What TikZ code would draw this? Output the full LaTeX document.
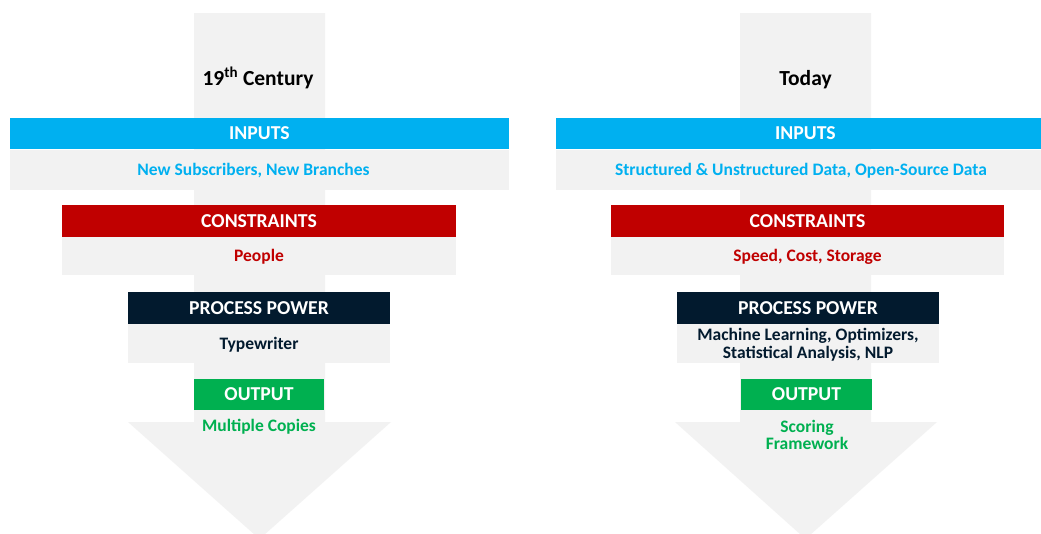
\documentclass[tikz,border=0pt]{standalone}
\usepackage{fontspec}
\setmainfont{Carlito}
\definecolor{inCyan}{HTML}{00B0F0}
\definecolor{conRed}{HTML}{C00000}
\definecolor{procNavy}{HTML}{021A2E}
\definecolor{outGreen}{HTML}{00B050}
\definecolor{paneGrey}{HTML}{F2F2F2}
\begin{document}
\begin{tikzpicture}[x=1pt,y=-1pt,
  hdr/.style={rectangle, inner sep=0pt, text=white, text height=12.6pt, text depth=0pt,
    font=\bfseries\fontsize{19.7}{22}\selectfont},
  body/.style={rectangle, inner sep=0pt, fill=paneGrey, text height=11.3pt, text depth=0pt,
    font=\bfseries\fontsize{17.5}{20}\selectfont},
  label/.style={inner sep=0pt, text height=11.3pt, text depth=0pt,
    font=\bfseries\fontsize{17.5}{20}\selectfont},
  plain/.style={inner sep=0pt, align=center, font=\bfseries\fontsize{17.5}{17.5}\selectfont},
  title/.style={inner sep=0pt, text height=14pt, text depth=0pt,
    font=\bfseries\fontsize{21.5}{24}\selectfont},
  flow/.style={fill=paneGrey},
]
\useasboundingbox (0,0) rectangle (1041,533);
\fill[white] (0,0) rectangle (1041,533);

% ---- left column: 19th century ----
\fill[flow] (194,13) -- (325,13) -- (325,422) -- (391,422) -- (259.5,539)
  -- (128,422) -- (194,422) -- cycle;
\node[title] (lt) at (258,78) {19\textsuperscript{th} Century};

\node[hdr, fill=inCyan, minimum width=499pt, minimum height=31pt] (lin) at (259.5,133.5) {INPUTS};
\node[body, minimum width=499pt, minimum height=40pt] (linb) at (259.5,169.5) {};
\node[label, text=inCyan] (lint) at (253.5,169.5) {New Subscribers, New Branches};

\node[hdr, fill=conRed, minimum width=394pt, minimum height=32pt] (lcon) at (259,221) {CONSTRAINTS};
\node[body, text=conRed, minimum width=394pt, minimum height=38pt] (lconb) at (259,255.5) {People};

\node[hdr, fill=procNavy, minimum width=262pt, minimum height=32pt] (lpp) at (259,308) {PROCESS POWER};
\node[body, text=procNavy, minimum width=262pt, minimum height=39pt] (lppb) at (259,343.5) {Typewriter};

\node[hdr, fill=outGreen, minimum width=130pt, minimum height=31pt] (lout) at (259,394.5) {OUTPUT};
\node[plain, text=outGreen] (loutb) at (259,426.5) {Multiple Copies};

% ---- right column: today ----
\fill[flow] (740,13) -- (871,13) -- (871,422) -- (937,422) -- (805.5,539)
  -- (675,422) -- (740,422) -- cycle;
\node[title] (rt) at (805.5,78) {Today};

\node[hdr, fill=inCyan, minimum width=499pt, minimum height=31pt] (rin) at (805.5,133.5) {INPUTS};
\node[body, minimum width=499pt, minimum height=40pt] (rinb) at (805.5,169.5) {};
\node[label, text=inCyan] (rint) at (801,169.5) {Structured \& Unstructured Data, Open-Source Data};

\node[hdr, fill=conRed, minimum width=393pt, minimum height=32pt] (rcon) at (807.5,221) {CONSTRAINTS};
\node[body, text=conRed, minimum width=393pt, minimum height=38pt] (rconb) at (807.5,255.5) {Speed, Cost, Storage};

\node[hdr, fill=procNavy, minimum width=262pt, minimum height=32pt] (rpp) at (808,308) {PROCESS POWER};
\node[body, minimum width=262pt, minimum height=39pt] (rppb) at (808,343.5) {};
\node[plain, text=procNavy] (rppt) at (808,344.5) {Machine Learning, Optimizers,\\Statistical Analysis, NLP};

\node[hdr, fill=outGreen, minimum width=131pt, minimum height=31pt] (rout) at (806.5,394.5) {OUTPUT};
\node[plain, text=outGreen] (routb) at (807,435) {Scoring\\Framework};
\end{tikzpicture}
\end{document}
